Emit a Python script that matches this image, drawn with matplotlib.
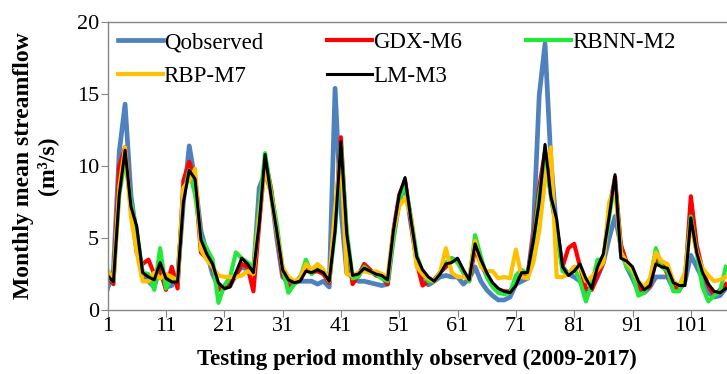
import numpy as np
import matplotlib.pyplot as plt

plt.rcParams['font.family'] = ['Liberation Serif', 'DejaVu Serif']

# monthly streamflow, testing period
q_observed = [1.5, 2.8, 11.0, 14.3, 8.0, 5.0, 2.5, 2.0, 1.6, 3.0,
              1.6, 1.7, 2.3, 7.5, 11.4, 9.0, 5.5, 4.0, 2.5, 1.6,
              1.5, 1.7, 2.5, 3.0, 2.8, 2.5, 8.5, 9.5, 8.3, 5.0,
              2.3, 2.0, 1.9, 2.0, 2.0, 2.0, 1.8, 2.0, 1.6, 15.4,
              7.0, 2.6, 2.3, 2.0, 2.0, 1.9, 1.8, 1.7, 1.8, 5.0,
              7.5, 8.8, 6.0, 3.5, 2.0, 1.75, 2.0, 2.3, 2.4, 2.3,
              2.3, 1.8, 2.2, 3.0, 2.0, 1.4, 1.0, 0.7, 0.7, 0.9,
              1.8, 2.0, 2.2, 5.5, 14.9, 18.5, 10.4, 5.5, 3.0, 2.5,
              2.3, 2.0, 1.2, 1.5, 2.3, 3.3, 5.0, 6.5, 4.5, 3.0,
              2.2, 1.3, 1.2, 1.6, 2.3, 2.3, 2.3, 1.5, 1.4, 2.0,
              3.8, 3.0, 2.2, 1.2, 0.9, 1.0, 1.5]
gdx_m6 = [2.3, 1.8, 10.0, 11.3, 7.0, 4.0, 3.2, 3.5, 2.5, 2.8,
          1.4, 3.0, 1.5, 9.0, 10.3, 9.0, 4.0, 3.6, 3.0, 1.4,
          1.5, 1.8, 2.4, 3.2, 3.0, 1.3, 6.0, 10.5, 8.5, 5.5,
          2.5, 1.6, 1.8, 2.3, 2.8, 2.6, 2.7, 2.5, 1.9, 6.0,
          12.0, 5.0, 1.8, 2.4, 3.2, 2.8, 2.4, 2.3, 1.8, 5.5,
          8.0, 9.0, 6.2, 3.3, 1.7, 2.0, 2.1, 2.6, 3.0, 3.6,
          3.4, 2.6, 2.0, 4.3, 3.2, 2.4, 1.8, 1.4, 1.3, 1.3,
          2.0, 2.5, 2.4, 5.0, 8.5, 11.0, 8.0, 5.5, 3.0, 4.3,
          4.6, 3.0, 1.5, 1.4, 2.4, 3.3, 7.0, 9.2, 4.5, 3.3,
          2.8, 1.6, 1.3, 1.7, 3.5, 3.3, 2.5, 1.6, 1.5, 2.0,
          7.9, 4.5, 2.8, 1.7, 1.0, 1.4, 1.8]
rbnn_m2 = [2.3, 2.0, 8.0, 10.5, 7.5, 5.5, 2.6, 2.5, 1.4, 4.3,
           1.5, 2.3, 2.0, 8.0, 9.7, 8.0, 5.0, 4.3, 3.5, 0.5,
           1.7, 2.3, 4.0, 3.6, 3.3, 3.0, 7.0, 10.9, 8.3, 6.0,
           2.9, 1.2, 1.8, 2.2, 3.5, 2.5, 3.0, 2.7, 2.0, 5.5,
           11.5, 5.5, 2.2, 2.3, 3.0, 2.6, 2.5, 2.2, 2.0, 5.0,
           7.7, 8.7, 6.5, 3.8, 2.6, 2.0, 2.0, 2.6, 3.3, 3.6,
           3.3, 2.6, 2.0, 5.2, 3.7, 2.3, 1.6, 1.2, 1.1, 1.2,
           2.4, 2.8, 2.5, 4.5, 8.0, 10.5, 8.0, 5.5, 2.7, 2.5,
           3.0, 2.0, 0.6, 1.8, 3.5, 3.5, 6.5, 9.0, 4.0, 3.0,
           2.5, 1.0, 1.2, 2.0, 4.3, 3.0, 2.7, 1.3, 1.3, 2.5,
           6.5, 4.0, 1.6, 0.6, 1.0, 1.3, 3.0]
rbp_m7 = [2.8, 2.0, 8.5, 11.3, 6.5, 4.0, 2.0, 2.0, 2.6, 2.2,
          2.5, 2.3, 2.0, 8.5, 9.0, 9.8, 4.2, 3.5, 3.0, 2.4,
          2.3, 2.3, 2.3, 2.4, 2.7, 2.5, 6.5, 10.0, 8.0, 5.5,
          3.0, 2.3, 2.0, 2.2, 3.2, 2.8, 3.2, 2.8, 2.0, 7.0,
          10.8, 2.5, 2.4, 2.6, 2.7, 2.6, 2.7, 2.5, 2.3, 5.5,
          7.2, 7.8, 6.5, 3.0, 2.5, 2.2, 2.0, 2.6, 4.3, 2.6,
          2.3, 2.3, 2.2, 4.8, 3.0, 2.7, 2.7, 2.2, 2.3, 2.2,
          4.2, 2.3, 2.2, 3.3, 5.5, 9.0, 11.3, 2.3, 2.3, 2.5,
          3.0, 3.0, 2.0, 2.3, 2.8, 3.3, 7.5, 8.5, 4.0, 3.3,
          2.8, 2.0, 1.6, 2.2, 4.0, 3.4, 3.2, 2.0, 1.7, 2.6,
          6.0, 4.0, 2.9, 2.4, 2.0, 2.1, 2.3]
lm_m3 = [2.4, 1.95, 8.0, 11.1, 7.2, 5.8, 2.6, 2.3, 2.1, 3.3,
         2.2, 1.95, 1.95, 7.5, 9.7, 9.1, 4.9, 3.9, 3.2, 1.9,
         1.5, 1.6, 2.6, 3.6, 3.2, 2.6, 6.0, 10.8, 8.0, 5.5,
         2.8, 2.1, 1.9, 2.0, 2.7, 2.6, 2.8, 2.6, 2.0, 5.5,
         11.7, 5.3, 2.4, 2.5, 2.9, 2.7, 2.5, 2.4, 2.1, 5.5,
         8.0, 9.2, 6.3, 3.7, 2.8, 2.3, 2.0, 2.5, 3.2, 3.3,
         3.6, 2.8, 2.1, 4.6, 3.5, 2.6, 1.9, 1.5, 1.3, 1.2,
         1.7, 2.6, 2.6, 4.8, 7.5, 11.5, 7.9, 6.3, 3.0, 2.4,
         2.7, 3.2, 2.2, 1.5, 3.0, 3.9, 6.5, 9.4, 3.6, 3.4,
         3.0, 2.0, 1.4, 1.7, 3.2, 3.0, 2.9, 1.9, 1.7, 1.7,
         6.4, 4.0, 2.6, 1.8, 1.3, 1.2, 1.5]

months = np.arange(1, len(q_observed) + 1)
x_ticks = np.arange(1, 102, 10)
y_ticks = [0, 5, 10, 15, 20]

fig = plt.figure(figsize=(7.27, 3.74), dpi=100)
ax = fig.add_axes([0.148, 0.171, 0.852, 0.770])

l_obs, = ax.plot(months, q_observed, color='#4F81BD', lw=3.4, label='Qobserved')
l_gdx, = ax.plot(months, gdx_m6, color='#FF0000', lw=3.0, label='GDX-M6')
l_rbnn, = ax.plot(months, rbnn_m2, color='#22E83A', lw=3.0, label='RBNN-M2')
l_rbp, = ax.plot(months, rbp_m7, color='#FFC000', lw=3.0, label='RBP-M7')
l_lm, = ax.plot(months, lm_m3, color='#000000', lw=2.2, label='LM-M3')

ax.set_xlim(1, 107.2)
ax.set_ylim(0, 20)
ax.set_xticks(x_ticks)
ax.set_yticks(y_ticks)
ax.tick_params(axis='both', direction='out', length=5, color='#868686',
               labelsize=16)
ax.tick_params(axis='y', pad=1)
ax.tick_params(axis='x', pad=0)

for side in ['left', 'bottom', 'top']:
    ax.spines[side].set_color('#868686')
    ax.spines[side].set_linewidth(1.0)
ax.spines['right'].set_visible(False)

ax.set_xlabel('Testing period monthly observed (2009-2017)',
              fontsize=16.5, fontweight='bold', labelpad=9)
ax.set_ylabel('Monthly mean streamflow\n(m³/s)',
              fontsize=17, fontweight='bold', labelpad=14, linespacing=1.1)

# order so the legend reads row-wise in 3 columns
handles = [l_obs, l_rbp, l_gdx, l_lm, l_rbnn]
ax.legend(handles=handles, labels=[h.get_label() for h in handles],
          ncol=3, loc='upper left', bbox_to_anchor=(0.0, 1.0),
          frameon=False, fontsize=16.5, handlelength=1.95, handletextpad=0.05,
          columnspacing=2.8, labelspacing=0.55, borderpad=0.45, borderaxespad=0.0)

fig.savefig('out.png', dpi=100)
